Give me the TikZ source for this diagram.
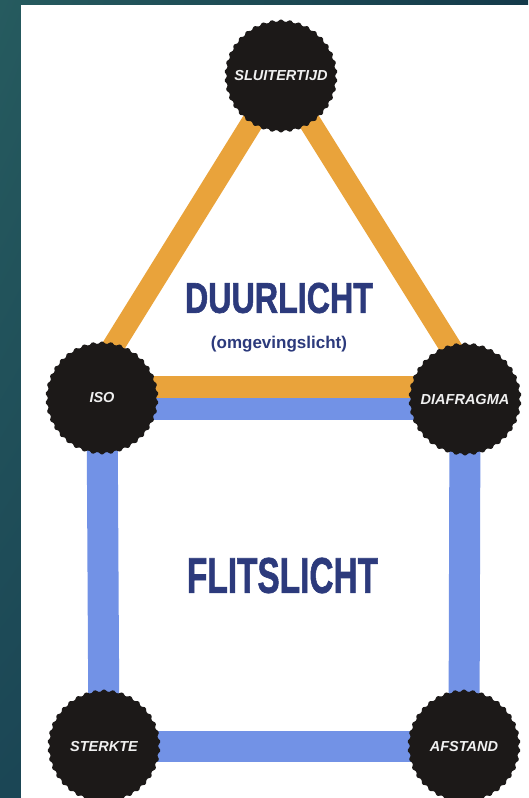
\documentclass[tikz,border=0pt]{standalone}
\usepackage{fontspec}
\setmainfont{Liberation Sans}
\newfontfamily\headfont[BoldFeatures={FakeBold=1.5}]{Liberation Sans}
\usepackage{tikz}
\usetikzlibrary{backgrounds,positioning,shadings,shapes.geometric}
\definecolor{FrameTealA}{HTML}{265B5F}
\definecolor{FrameTealB}{HTML}{143A4A}
\definecolor{FrameTealC}{HTML}{1B4655}
\definecolor{SealBlack}{HTML}{1C1918}
\definecolor{SealText}{HTML}{F0F0F0}
\definecolor{WarmOrange}{HTML}{E9A33B}
\definecolor{FlashBlue}{HTML}{7292E6}
\definecolor{DeepNavy}{HTML}{2C3A7C}
% zero-width label so that every seal keeps the same size
\newcommand{\seallabel}[1]{\makebox[0pt]{#1}}

\begin{document}
\begin{tikzpicture}[
  x=1pt, y=-1pt,
  seal/.style={star, star points=38, star point ratio=1.06, minimum size=114pt,
    inner sep=0pt, fill=SealBlack, rounded corners=1.2pt,
    text=SealText, font=\fontsize{14.5}{15}\selectfont\bfseries\itshape},
  warmband/.style={line width=22pt, draw=WarmOrange},
  flashband/.style={line width=31pt, draw=FlashBlue},
  title/.style={inner sep=0pt, text=DeepNavy}
]
\useasboundingbox (0,0) rectangle (528,798);

\node[seal] (sluitertijd) at (281,76) {\seallabel{SLUITERTIJD}};
\node[seal] (iso) at (102,398) {\seallabel{ISO}};
\node[seal] (diafragma) at (465,399) {\seallabel{DIAFRAGMA}};
\node[seal] (sterkte) at (104,746) {\seallabel{STERKTE}};
\node[seal] (afstand) at (464,746) {\seallabel{AFSTAND}};

\node[title] (duurlicht) at (279,298)
  {\resizebox{188pt}{30pt}{\headfont\bfseries DUURLICHT}};
\node[title, font=\fontsize{17}{17}\selectfont\bfseries, below=23pt of duurlicht]
  (omgeving) {(omgevingslicht)};

\node[title] (flitslicht) at (282.5,575.5)
  {\resizebox{191pt}{35pt}{\headfont\bfseries FLITSLICHT}};

\begin{pgfonlayer}{background}
  % frame and page
  \shade[upper left=FrameTealA, lower left=FrameTealC, upper right=FrameTealB,
    lower right=FrameTealB] (0,0) rectangle (528,798);
  \fill[white] (21,5) rectangle (529,799);

  % daylight triangle
  \draw[warmband] ([xshift=-14pt,yshift=11pt]iso.center) -- (sluitertijd.center);
  \draw[warmband] ([xshift=11pt,yshift=11pt]diafragma.center) -- (sluitertijd.center);
  \draw[warmband] ([yshift=11pt]iso.center) -- ([yshift=12pt]diafragma.center);

  % flash square
  \draw[flashband, line width=22pt] ([yshift=-11pt]iso.center) -- ([yshift=-10pt]diafragma.center);
  \draw[flashband] (iso.center) -- (sterkte.center);
  \draw[flashband] (diafragma.center) -- (afstand.center);
  \draw[flashband] (sterkte.center) -- (afstand.center);
\end{pgfonlayer}
\end{tikzpicture}
\end{document}
